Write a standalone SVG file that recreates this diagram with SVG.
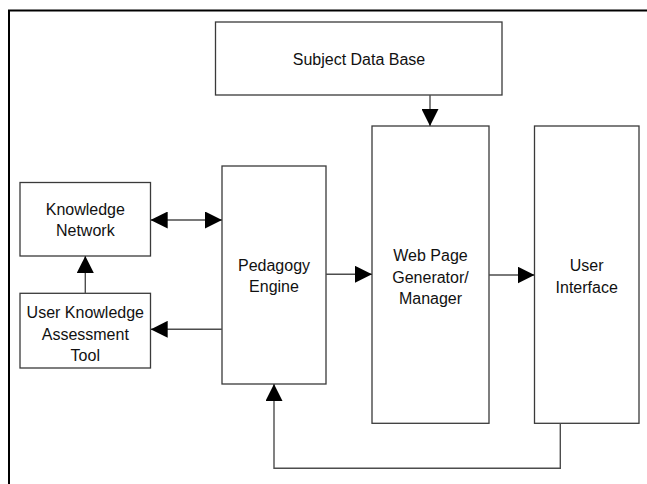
<svg xmlns="http://www.w3.org/2000/svg" width="647" height="484" viewBox="0 0 647 484">
  <style>
    .box { fill: #ffffff; stroke: #3a3a3a; stroke-width: 1.3; }
    .lbl { font-family: "Liberation Sans", Arial, sans-serif; font-size: 16px; fill: #111111; text-anchor: middle; }
    .wire { fill: none; stroke: #4d4d4d; stroke-width: 1.4; }
  </style>
  <defs>
    <marker id="head" markerUnits="userSpaceOnUse" markerWidth="17" markerHeight="17" refX="17" refY="8.5" orient="auto-start-reverse">
      <path d="M0,0 L17,8.5 L0,17 z" fill="#000000"/>
    </marker>
  </defs>

  <rect width="647" height="484" fill="#ffffff"/>
  <!-- outer frame -->
  <path d="M9,484 V10.5 H647" fill="none" stroke="#000000" stroke-width="2"/>

  <g id="subject-data-base">
    <rect class="box" x="215.5" y="22" width="286.5" height="73"/>
    <text class="lbl" x="359" y="65">Subject Data Base</text>
  </g>

  <g id="web-page-generator">
    <rect class="box" x="372" y="126" width="117" height="297.3"/>
    <text class="lbl" x="430.5" y="261">Web Page</text>
    <text class="lbl" x="430.5" y="282.5">Generator/</text>
    <text class="lbl" x="430.5" y="304">Manager</text>
  </g>

  <g id="user-interface">
    <rect class="box" x="534.5" y="126" width="104.5" height="297.3"/>
    <text class="lbl" x="586.7" y="271">User</text>
    <text class="lbl" x="586.7" y="292.5">Interface</text>
  </g>

  <g id="pedagogy-engine">
    <rect class="box" x="222" y="166" width="104" height="218"/>
    <text class="lbl" x="274" y="271">Pedagogy</text>
    <text class="lbl" x="274" y="291.5">Engine</text>
  </g>

  <g id="knowledge-network">
    <rect class="box" x="20" y="182.5" width="130.5" height="73.5"/>
    <text class="lbl" x="85.3" y="215">Knowledge</text>
    <text class="lbl" x="85.3" y="236">Network</text>
  </g>

  <g id="assessment-tool">
    <rect class="box" x="20" y="293.3" width="130.5" height="74.7"/>
    <text class="lbl" x="85.3" y="318">User Knowledge</text>
    <text class="lbl" x="85.3" y="339.5">Assessment</text>
    <text class="lbl" x="85.3" y="361">Tool</text>
  </g>

  <g id="connectors">
    <path class="wire" d="M430,95 V126" marker-end="url(#head)"/>
    <path class="wire" d="M150.7,220 H222" marker-start="url(#head)" marker-end="url(#head)"/>
    <path class="wire" d="M85.3,293.3 V256" marker-end="url(#head)"/>
    <path class="wire" d="M222,329.3 H150.7" marker-end="url(#head)"/>
    <path class="wire" d="M326,274.3 H372" marker-end="url(#head)"/>
    <path class="wire" d="M489,275 H534.5" marker-end="url(#head)"/>
    <path class="wire" d="M560.3,423.3 V468.3 H274 V384" marker-end="url(#head)"/>
  </g>
</svg>
